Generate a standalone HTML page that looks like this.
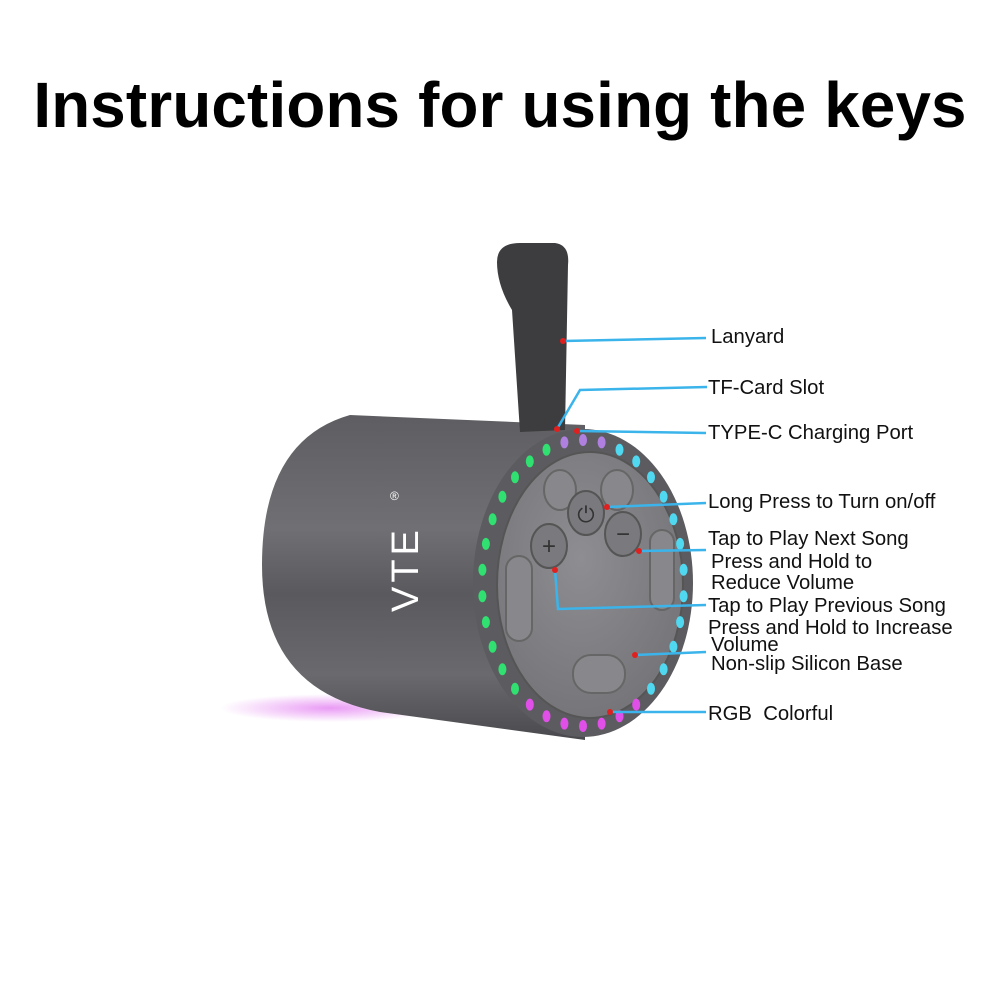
<!DOCTYPE html>
<html><head><meta charset="utf-8"><style>
body{margin:0;width:1000px;height:1000px;background:#fff;position:relative;overflow:hidden;font-family:"Liberation Sans",sans-serif}
h1{position:absolute;left:0;width:1000px;top:69px;margin:0;text-align:center;font-size:63.7px;font-weight:bold;color:#000;letter-spacing:0.2px}
.l{position:absolute;left:708px;font-size:20.3px;color:#111;line-height:21px;white-space:nowrap}
</style></head><body>
<h1>Instructions for using the keys</h1>
<svg width="1000" height="1000" style="position:absolute;left:0;top:0">
<defs>
<linearGradient id="body" x1="0" y1="0" x2="0" y2="1">
<stop offset="0" stop-color="#5e5e62"/><stop offset="0.35" stop-color="#707074"/><stop offset="0.55" stop-color="#5a5a5e"/><stop offset="0.8" stop-color="#6a6a6e"/><stop offset="1" stop-color="#4a4a4e"/></linearGradient>
<radialGradient id="face" cx="0.45" cy="0.4" r="0.7"><stop offset="0" stop-color="#8e8e92"/><stop offset="1" stop-color="#727276"/></radialGradient>
<radialGradient id="glow" cx="0.5" cy="0.5" r="0.5"><stop offset="0" stop-color="#e070f0" stop-opacity="0.7"/><stop offset="1" stop-color="#e070f0" stop-opacity="0"/></radialGradient>
</defs>
<ellipse cx="330" cy="708" rx="110" ry="14" fill="url(#glow)"/>
<path d="M350 415 L585 425 L585 740 L380 712 Q262 690 262 565 Q262 440 350 415Z" fill="url(#body)"/>
<path d="M497 262 Q497 243 520 243 L555 243 Q570 245 568 265 L565 430 L520 432 L512 310 Q497 285 497 262Z" fill="#3d3d40"/>
<text x="0" y="0" transform="translate(418,612) rotate(-90)" fill="#fff" font-size="38" font-family="Liberation Sans" letter-spacing="4">VTE</text>
<text x="390" y="500" fill="#fff" font-size="12">®</text>
<ellipse cx="583" cy="583" rx="110" ry="154" fill="#5c5c60"/>
<ellipse cx="590" cy="585" rx="93" ry="133" fill="url(#face)" stroke="#555" stroke-width="2"/>
<g id="leds"></g>
<ellipse cx="560" cy="490" rx="16" ry="20" fill="#88888c" stroke="#666" stroke-width="2"/>
<ellipse cx="617" cy="490" rx="16" ry="20" fill="#88888c" stroke="#666" stroke-width="2"/>
<ellipse cx="586" cy="513" rx="18" ry="22" fill="#7a7a7e" stroke="#555" stroke-width="2"/>
<text x="586" y="522" text-anchor="middle" font-size="22" fill="#333">⏻</text>
<ellipse cx="549" cy="546" rx="18" ry="22" fill="#7a7a7e" stroke="#555" stroke-width="2"/>
<text x="549" y="554" text-anchor="middle" font-size="24" fill="#333">+</text>
<ellipse cx="623" cy="534" rx="18" ry="22" fill="#7a7a7e" stroke="#555" stroke-width="2"/>
<text x="623" y="542" text-anchor="middle" font-size="24" fill="#333">−</text>
<rect x="506" y="556" width="26" height="85" rx="13" fill="#88888c" stroke="#666" stroke-width="2"/>
<rect x="650" y="530" width="24" height="80" rx="12" fill="#88888c" stroke="#666" stroke-width="2"/>
<rect x="573" y="655" width="52" height="38" rx="18" fill="#88888c" stroke="#666" stroke-width="2"/>
<g stroke="#3ab4ea" stroke-width="2.5" fill="none">
<polyline points="563,341 706,338"/>
<polyline points="557,429 580,390 707,387"/>
<polyline points="577,431 706,433"/>
<polyline points="607,507 706,503"/>
<polyline points="639,551 706,550"/>
<polyline points="555,570 558,609 706,605"/>
<polyline points="635,655 706,652"/>
<polyline points="610,712 706,712"/>
</g>
<g fill="#e0201e">
<circle cx="563" cy="341" r="3"/><circle cx="557" cy="429" r="3"/><circle cx="577" cy="431" r="3"/><circle cx="607" cy="507" r="3"/><circle cx="639" cy="551" r="3"/><circle cx="555" cy="570" r="3"/><circle cx="635" cy="655" r="3"/><circle cx="610" cy="712" r="3"/>
</g>
</svg>
<script>
var g=document.getElementById('leds'),s='';
for(var i=0;i<34;i++){var a=(i/34)*Math.PI*2-Math.PI/2;var x=583+101*Math.cos(a),y=583+143*Math.sin(a);
var t=(Math.cos(a));var c;
if(Math.sin(a)>0.8)c='#e050e8';else if(t<-0.2)c='#30e070';else if(t<0.2)c=Math.sin(a)<0?'#b080e0':'#60d0a0';else c='#50d8f0';
s+='<ellipse cx="'+x.toFixed(1)+'" cy="'+y.toFixed(1)+'" rx="4" ry="6" fill="'+c+'"/>';}
g.innerHTML=s;
</script>
<div class="l" style="top:327px;left:711px">Lanyard</div>
<div class="l" style="top:378px">TF-Card Slot</div>
<div class="l" style="top:423px">TYPE-C Charging Port</div>
<div class="l" style="top:492px">Long Press to Turn on/off</div>
<div class="l" style="top:529px">Tap to Play Next Song</div>
<div class="l" style="top:552px;left:711px">Press and Hold to</div>
<div class="l" style="top:573px;left:711px">Reduce Volume</div>
<div class="l" style="top:596px">Tap to Play Previous Song</div>
<div class="l" style="top:618px">Press and Hold to Increase</div>
<div class="l" style="top:635px;left:711px">Volume</div>
<div class="l" style="top:654px;left:711px">Non-slip Silicon Base</div>
<div class="l" style="top:704px">RGB&nbsp; Colorful</div>
</body></html>
